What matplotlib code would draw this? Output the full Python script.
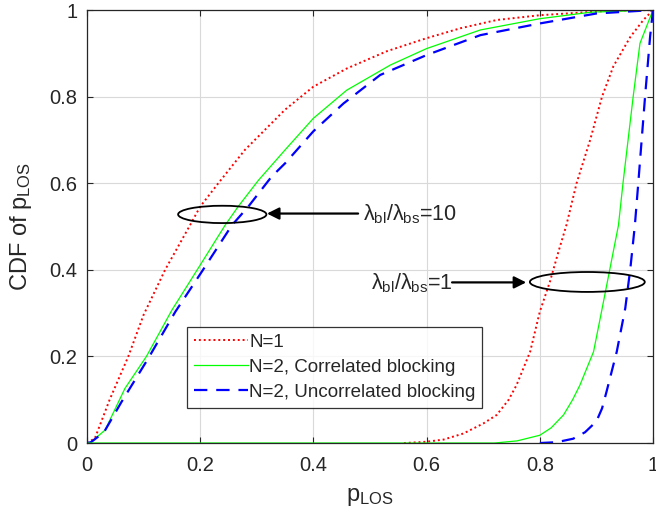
import matplotlib
matplotlib.use("Agg")
import matplotlib.pyplot as plt
from matplotlib.patches import Ellipse

plt.rcParams['font.family'] = ['Liberation Sans', 'DejaVu Sans']
plt.rcParams['mathtext.fontset'] = 'custom'
plt.rcParams['mathtext.rm'] = 'Liberation Sans'
plt.rcParams['mathtext.it'] = 'Liberation Sans'

# ratio lambda_bl/lambda_bs = 10
x_n1_r10 = [0, 0.014, 0.04, 0.073, 0.1, 0.138, 0.182, 0.2, 0.232, 0.279, 0.35, 0.4, 0.459, 0.53, 0.6, 0.66, 0.724, 0.8, 0.93, 1.0]
y_n1_r10 = [0, 0.011, 0.1, 0.2, 0.296, 0.40, 0.503, 0.546, 0.60, 0.677, 0.77, 0.823, 0.865, 0.905, 0.935, 0.958, 0.977, 0.988, 0.999, 1.0]

x_cor_r10 = [0, 0.005, 0.032, 0.067, 0.105, 0.15, 0.2, 0.244, 0.267, 0.303, 0.35, 0.4, 0.459, 0.536, 0.6, 0.695, 0.8, 0.89, 1.0]
y_cor_r10 = [0, 0.0, 0.03, 0.126, 0.2, 0.307, 0.411, 0.503, 0.546, 0.607, 0.677, 0.75, 0.815, 0.873, 0.911, 0.954, 0.98, 0.995, 1.0]

x_unc_r10 = [0, 0.007, 0.03, 0.061, 0.108, 0.156, 0.203, 0.256, 0.285, 0.326, 0.35, 0.4, 0.453, 0.518, 0.6, 0.695, 0.8, 0.9, 1.0]
y_unc_r10 = [0, 0.002, 0.025, 0.095, 0.195, 0.303, 0.396, 0.503, 0.546, 0.615, 0.646, 0.72, 0.784, 0.85, 0.896, 0.942, 0.969, 0.992, 1.0]

# ratio lambda_bl/lambda_bs = 1
x_n1_r1 = [0.56, 0.6, 0.63, 0.665, 0.7, 0.724, 0.745, 0.759, 0.783, 0.80, 0.818, 0.833, 0.847, 0.865, 0.889, 0.91, 0.93, 0.96, 0.983, 1.0]
y_n1_r1 = [0.0, 0.003, 0.008, 0.022, 0.045, 0.065, 0.1, 0.134, 0.211, 0.303, 0.373, 0.442, 0.503, 0.60, 0.70, 0.80, 0.87, 0.938, 0.977, 1.0]

x_cor_r1 = [0, 0.72, 0.76, 0.80, 0.82, 0.842, 0.858, 0.871, 0.895, 0.909, 0.924, 0.939, 0.947, 0.965, 0.977, 1.0]
y_cor_r1 = [0, 0.0, 0.005, 0.018, 0.035, 0.065, 0.1, 0.134, 0.211, 0.303, 0.403, 0.503, 0.60, 0.80, 0.923, 1.0]

x_unc_r1 = [0.80, 0.83, 0.859, 0.88, 0.90, 0.91, 0.918, 0.936, 0.951, 0.96, 0.968, 0.974, 0.986, 0.995, 1.0]
y_unc_r1 = [0.0, 0.002, 0.01, 0.025, 0.05, 0.08, 0.119, 0.211, 0.311, 0.403, 0.503, 0.60, 0.80, 0.94, 1.0]

labels = ['N=1', 'N=2, Correlated blocking', 'N=2, Uncorrelated blocking']
ticks = [0, 0.2, 0.4, 0.6, 0.8, 1]
tick_labels = ['0', '0.2', '0.4', '0.6', '0.8', '1']

fig = plt.figure(figsize=(6.56, 5.2), dpi=100)
ax = fig.add_axes([0.1326, 0.148, 0.8628, 0.8327])

axc = '#262626'
ax.plot(x_n1_r10, y_n1_r10, color='#ff0000', ls=(0, (1, 1.5)), lw=1.4, label=labels[0])
ax.plot(x_cor_r10, y_cor_r10, color='#00ff00', ls='-', lw=0.9, label=labels[1])
ax.plot(x_unc_r10, y_unc_r10, color='#0000ff', ls=(0, (6, 4)), lw=1.6, label=labels[2])
ax.plot(x_n1_r1, y_n1_r1, color='#ff0000', ls=(0, (1, 1.5)), lw=1.4)
ax.plot(x_cor_r1, y_cor_r1, color='#00ff00', ls='-', lw=0.9)
ax.plot(x_unc_r1, y_unc_r1, color='#0000ff', ls=(0, (6, 4)), lw=1.6)

ax.set_xlim(0, 1)
ax.set_ylim(0, 1)
ax.set_xticks(ticks)
ax.set_xticklabels(tick_labels)
ax.set_yticks(ticks)
ax.set_yticklabels(tick_labels)
ax.tick_params(direction='in', length=4, width=0.8, colors=axc, labelsize=14.5,
               top=True, right=True, pad=7)
ax.tick_params(axis='x', pad=9)
for s in ax.spines.values():
    s.set_color(axc)
    s.set_linewidth(0.9)
ax.grid(True, color='#d9d9d9', lw=0.8)
ax.set_axisbelow(True)

ax.set_xlabel(r'p$_{\mathregular{LOS}}$', fontsize=17, color=axc, labelpad=8)
ax.set_ylabel(r'CDF of p$_{\mathregular{LOS}}$', fontsize=17, color=axc, labelpad=11)

# annotations
ax.add_patch(Ellipse((0.239, 0.528), 0.156, 0.040, fill=False, ec='black', lw=1.3, zorder=5))
ax.annotate('', xy=(0.318, 0.530), xytext=(0.479, 0.530),
            arrowprops=dict(arrowstyle='-|>', color='black', lw=1.6, mutation_scale=18,
                            shrinkA=0, shrinkB=0))
ax.text(0.487, 0.528, r'$\lambda_{\mathregular{bl}}/\lambda_{\mathregular{bs}}$=10',
        fontsize=15.5, color=axc, va='center', ha='left')

ax.add_patch(Ellipse((0.884, 0.372), 0.203, 0.046, fill=False, ec='black', lw=1.3, zorder=5))
ax.annotate('', xy=(0.776, 0.371), xytext=(0.645, 0.371),
            arrowprops=dict(arrowstyle='-|>', color='black', lw=1.6, mutation_scale=18,
                            shrinkA=0, shrinkB=0))
ax.text(0.647, 0.368, r'$\lambda_{\mathregular{bl}}/\lambda_{\mathregular{bs}}$=1',
        fontsize=15.5, color=axc, va='center', ha='right')

leg = ax.legend(loc='lower left', bbox_to_anchor=(0.177, 0.082), borderaxespad=0,
                fontsize=13.5, handlelength=2.9, handletextpad=0.05, labelspacing=0.42,
                borderpad=0.35, fancybox=False, frameon=True)
leg.get_frame().set_edgecolor('black')
leg.get_frame().set_linewidth(0.9)
for t in leg.get_texts():
    t.set_color(axc)

fig.savefig('out.png', dpi=100)
